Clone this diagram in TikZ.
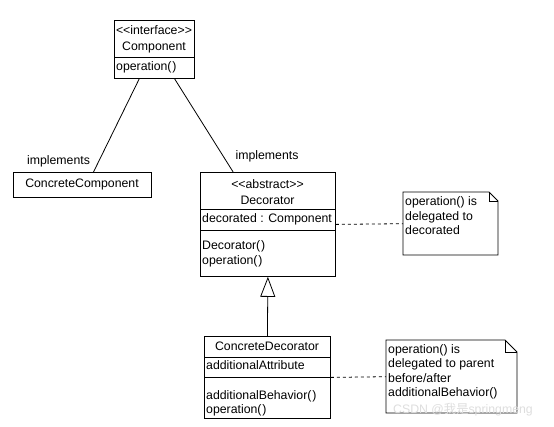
\documentclass[tikz,border=0pt]{standalone}
\usepackage{fontspec}
\setmainfont{Liberation Sans}
\newfontfamily\cjkfont{Noto Sans CJK SC}
\usetikzlibrary{arrows.meta,calc}
\begin{document}
\begin{tikzpicture}[x=1pt,y=-1pt,
  box/.style={draw, line width=0.8pt, inner sep=0pt, anchor=north west},
  area/.style={inner sep=0pt, anchor=north west},
  txt/.style={inner sep=0pt, text height=9pt, text depth=2.5pt, font=\fontsize{12.3}{14}\selectfont},
  ltxt/.style={txt, anchor=west},
  conn/.style={line width=0.8pt},
  sep/.style={line width=0.8pt},
  dashconn/.style={line width=0.8pt, dash pattern=on 3pt off 3pt},
  notepath/.style={draw, line width=0.8pt, line join=miter},
  wm/.style={txt, anchor=west, text=black!13}
  ]
\useasboundingbox[fill=white] (0,0) rectangle (554,426);

% Component
\node[box, minimum width=80pt, minimum height=58pt] (comp) at (114,20) {};
\draw[sep] (114,57) -- (194,57);
\node[txt] (compst) at (154,31) {<\kern0pt<interface>\kern0pt>};
\node[txt] (compname) at (154,47) {Component};
\node[ltxt] (compop) at (116,67) {operation(\kern0.8pt)};

% ConcreteComponent
\node[box, minimum width=138pt, minimum height=25pt] (cc) at (13,172) {};
\node[txt] (ccname) at (82,184) {ConcreteComponent};

% Decorator
\node[box, minimum width=135pt, minimum height=104pt] (dec) at (200,172) {};
\draw[sep] (200,209) -- (335,209);
\draw[sep] (200,230) -- (335,230);
\node[txt] (decst) at (267.5,185) {<\kern0pt<abstract>\kern0pt>};
\node[txt] (decname) at (267.5,201) {Decorator};
\node[ltxt] (decattr) at (202,219.5) {decorated : Component};
\node[ltxt] (decop1) at (202,246) {Decorator(\kern0.8pt)};
\node[ltxt] (decop2) at (202,261) {operation(\kern0.8pt)};

% ConcreteDecorator
\node[box, minimum width=126pt, minimum height=82pt] (cdec) at (204,336) {};
\draw[sep] (204,357) -- (330,357);
\draw[sep] (204,377) -- (330,377);
\node[txt] (cdecname) at (267,347) {ConcreteDecorator};
\node[ltxt] (cdecattr) at (206,366) {additionalAttribute};
\node[ltxt] (cdecop1) at (206,396) {additionalBehavior(\kern0.8pt)};
\node[ltxt] (cdecop2) at (206,410) {operation(\kern0.8pt)};

% Note 1
\node[area, minimum width=95pt, minimum height=63pt] (n1) at (403,192) {};
\draw[notepath] (403,192) -- (489,192) -- (498,201) -- (498,255) -- (403,255) -- cycle;
\draw[notepath] (489,192) -- (489,201) -- (498,201);
\node[ltxt] (n1a) at (405,202) {operation() is};
\node[ltxt] (n1b) at (405,217) {delegated to};
\node[ltxt] (n1c) at (405,231) {decorated};

% Note 2
\node[area, minimum width=131pt, minimum height=73pt] (n2) at (386,340) {};
\draw[notepath] (386,340) -- (505,340) -- (517,352) -- (517,413) -- (386,413) -- cycle;
\draw[notepath] (505,340) -- (505,352) -- (517,352);
\node[ltxt] (n2a) at (388,350) {operation() is};
\node[ltxt] (n2b) at (388,364.5) {delegated to parent};
\node[ltxt] (n2c) at (388,379) {before/after};
\node[ltxt] (n2d) at (388,393.5) {additionalBehavior()};

% watermark
\node[wm] (wmark) at (393,410) {CSDN @{\cjkfont 我是}springmeng};

% connectors
\draw[conn] ($(comp.south west)!0.3125!(comp.south east)$) -- ($(cc.north west)!0.58!(cc.north east)$);
\draw[conn] ($(comp.south west)!0.75!(comp.south east)$) -- ($(dec.north west)!0.244!(dec.north east)$);
\node[txt] (impl1) at (58.5,161) {implements};
\node[txt] (impl2) at (267,156) {implements};
\draw[conn, -{Triangle[open, length=20pt, width=15pt, fill=white]}] (cdec.north) -- (dec.south);
\draw[dashconn] (dec.east) -- (n1.west);
\draw[dashconn] (cdec.east) -- (n2.west);
\end{tikzpicture}
\end{document}
